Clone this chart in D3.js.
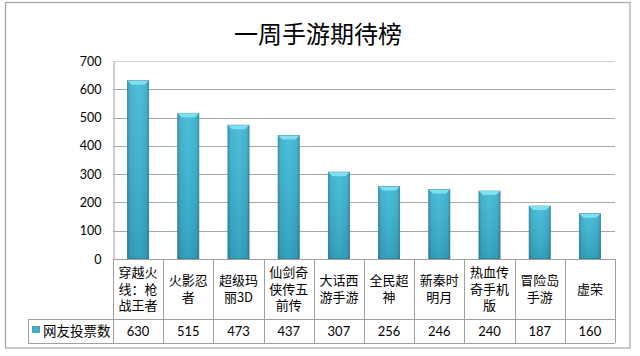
<!DOCTYPE html>
<html><head><meta charset="utf-8">
<script src="https://cdn.jsdelivr.net/npm/d3@7"></script>
<style>
html,body{margin:0;padding:0;background:#fff;}
svg{display:block;}
</style></head>
<body>
<script>
const title = "一周手游期待榜";
const seriesName = "网友投票数";
const categories = ["穿越火线：枪战王者","火影忍者","超级玛丽3D","仙剑奇侠传五前传","大话西游手游","全民超神","新秦时明月","热血传奇手机版","冒险岛手游","虚荣"];
const values = [630,515,473,437,307,256,246,240,187,160];
const yTicks = [0,100,200,300,400,500,600,700];

(function(){
const W = 640, H = 356;
const svg = d3.select("body").append("svg").attr("width", W).attr("height", H);
const defs = svg.append("defs");

const gH = defs.append("linearGradient").attr("id","barH").attr("x1","0").attr("x2","1").attr("y1","0").attr("y2","0");
gH.append("stop").attr("offset","0").attr("stop-color","#2b8fa8");
gH.append("stop").attr("offset","0.12").attr("stop-color","#37acc9");
gH.append("stop").attr("offset","0.5").attr("stop-color","#3cb9d8");
gH.append("stop").attr("offset","0.88").attr("stop-color","#37acc9");
gH.append("stop").attr("offset","1").attr("stop-color","#2b8fa8");
const gV = defs.append("linearGradient").attr("id","barV").attr("x1","0").attr("x2","0").attr("y1","0").attr("y2","1");
gV.append("stop").attr("offset","0").attr("stop-color","#ffffff").attr("stop-opacity",0.08);
gV.append("stop").attr("offset","1").attr("stop-color","#000000").attr("stop-opacity",0.12);

// outer frame
svg.append("rect").attr("x",5.5).attr("y",2.5).attr("width",624.5).attr("height",345.5)
  .attr("fill","#fff").attr("stroke","#a6a6a6").attr("stroke-width",1.2);

const pLeft = 113, pRight = 615, pTop = 61, zeroY = 259;
const x = d3.scaleBand().domain(categories).range([pLeft, pRight]).padding(0);
const y = d3.scaleLinear().domain([0,700]).range([zeroY, pTop]);

// title
svg.append("text").attr("x",318).attr("y",43).attr("text-anchor","middle")
  .attr("font-family","'Noto Sans CJK SC'").attr("font-size",24).attr("fill","#000")
  .text(title);

// gridlines
svg.append("g").selectAll("line").data(yTicks.filter(d=>d>0)).join("line")
  .attr("x1",pLeft).attr("x2",pRight).attr("y1",d=>Math.round(y(d))+0.5).attr("y2",d=>Math.round(y(d))+0.5)
  .attr("stroke",d=>d===700?"#d0d0d0":"#a8a8a8").attr("stroke-width",1);

// y axis
const yAxis = d3.axisLeft(y).tickValues(yTicks).tickSize(0).tickPadding(12);
const ya = svg.append("g").attr("transform",`translate(${pLeft+0.5},0)`).call(yAxis);
ya.select(".domain").attr("stroke","#a0a0a0");
ya.selectAll("text").attr("font-family","Lato, 'Open Sans', sans-serif").attr("font-size",12.5).attr("fill","#000");

// bars
const bw = x.bandwidth()*0.42;
const bars = svg.append("g").selectAll("g").data(values).join("g");
bars.append("rect")
  .attr("x",(d,i)=>x(categories[i])+x.bandwidth()/2-bw/2)
  .attr("y",d=>y(d)).attr("width",bw).attr("height",d=>zeroY-y(d))
  .attr("fill","url(#barH)").attr("stroke","#2a7f96").attr("stroke-width",0.8);
bars.append("rect")
  .attr("x",(d,i)=>x(categories[i])+x.bandwidth()/2-bw/2)
  .attr("y",d=>y(d)).attr("width",bw).attr("height",d=>zeroY-y(d))
  .attr("fill","url(#barV)");
bars.append("path")
  .attr("d",(d,i)=>{
    const x0 = x(categories[i])+x.bandwidth()/2-bw/2, x1 = x0+bw, t = y(d), c=4;
    return `M${x0},${t}L${x1},${t}L${x1-c},${t+c}L${x0+c},${t+c}Z`;
  })
  .attr("fill","#7fe0f2");

// data table
const tableLeft = 28, rowMid = 319, rowBot = 343;
const tg = svg.append("g").attr("stroke","#a0a0a0").attr("stroke-width",1);
tg.append("line").attr("x1",pLeft).attr("x2",pRight).attr("y1",zeroY+0.5).attr("y2",zeroY+0.5);
tg.append("line").attr("x1",tableLeft).attr("x2",pRight).attr("y1",rowMid+0.5).attr("y2",rowMid+0.5);
tg.append("line").attr("x1",tableLeft).attr("x2",pRight).attr("y1",rowBot+0.5).attr("y2",rowBot+0.5);
tg.append("line").attr("x1",tableLeft+0.5).attr("x2",tableLeft+0.5).attr("y1",rowMid).attr("y2",rowBot);
const vx = categories.map(c=>x(c)).concat([pRight]);
tg.selectAll(".v").data(vx).join("line").attr("class","v")
  .attr("x1",d=>Math.round(d)+0.5).attr("x2",d=>Math.round(d)+0.5).attr("y1",zeroY).attr("y2",rowBot);

// category labels (wrapped 3 characters per line)
const lh = 16.5;
const lg = svg.append("g").attr("font-family","'Noto Sans CJK SC'").attr("font-size",13)
  .attr("fill","#000").attr("text-anchor","middle");
categories.forEach((c,i)=>{
  const chars = Array.from(c), lines=[];
  for(let k=0;k<chars.length;k+=3) lines.push(chars.slice(k,k+3).join(""));
  const cy = (zeroY+rowMid)/2;
  lines.forEach((ln,j)=>{
    lg.append("text").attr("x",x(c)+x.bandwidth()/2)
      .attr("y",cy + (j-(lines.length-1)/2)*lh + 4.5).text(ln);
  });
});

// values row
svg.append("g").selectAll("text").data(values).join("text")
  .attr("x",(d,i)=>x(categories[i])+x.bandwidth()/2).attr("y",(rowMid+rowBot)/2+4.5)
  .attr("text-anchor","middle").attr("font-family","Lato, 'Open Sans', sans-serif")
  .attr("font-size",13).attr("fill","#000").text(d=>d);

// legend
svg.append("rect").attr("x",32.5).attr("y",326.5).attr("width",7).attr("height",6)
  .attr("fill","url(#barH)").attr("stroke","#2a7f96").attr("stroke-width",0.6);
svg.append("text").attr("x",43).attr("y",336).attr("font-family","'Noto Sans CJK SC'")
  .attr("font-size",13.5).attr("fill","#000").text(seriesName);
})();
</script>
</body></html>
